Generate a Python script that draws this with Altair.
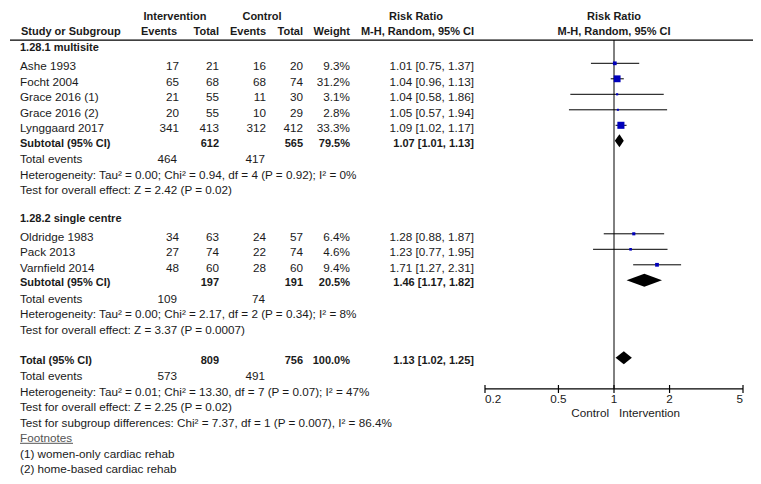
import altair as alt
import pandas as pd

# ---------------- data ----------------
studies = ["Ashe 1993", "Focht 2004", "Grace 2016 (1)", "Grace 2016 (2)", "Lynggaard 2017",
           "Oldridge 1983", "Pack 2013", "Varnfield 2014"]
study_rows = [0, 1, 2, 3, 4, 11, 12, 13]
int_events = [17, 65, 21, 20, 341, 34, 27, 48]
int_total = [21, 68, 55, 55, 413, 63, 74, 60]
ctl_events = [16, 68, 11, 10, 312, 24, 22, 28]
ctl_total = [20, 74, 30, 29, 412, 57, 74, 60]
weights = [9.3, 31.2, 3.1, 2.8, 33.3, 6.4, 4.6, 9.4]
rr = [1.01, 1.04, 1.04, 1.05, 1.09, 1.28, 1.23, 1.71]
rr_lo = [0.75, 0.96, 0.58, 0.57, 1.02, 0.88, 0.77, 1.27]
rr_hi = [1.37, 1.13, 1.86, 1.94, 1.17, 1.87, 1.95, 2.31]

sub_rows = [5, 14, 19]
sub_labels = ["Subtotal (95% CI)", "Subtotal (95% CI)", "Total (95% CI)"]
sub_int_total = [612, 197, 809]
sub_ctl_total = [565, 191, 756]
sub_weight = [79.5, 20.5, 100.0]
sub_est = [1.07, 1.46, 1.13]
sub_lo = [1.01, 1.17, 1.02]
sub_hi = [1.13, 1.82, 1.25]

te_rows = [6, 15, 20]
te_int = [464, 109, 573]
te_ctl = [417, 74, 491]

group_rows = [-1.15, 9.85]
group_labels = ["1.28.1 multisite", "1.28.2 single centre"]

note_rows = [7, 8, 16, 17, 21, 22, 23, 25, 26]
note_texts = [
    "Heterogeneity: Tau\u00b2 = 0.00; Chi\u00b2 = 0.94, df = 4 (P = 0.92); I\u00b2 = 0%",
    "Test for overall effect: Z = 2.42 (P = 0.02)",
    "Heterogeneity: Tau\u00b2 = 0.00; Chi\u00b2 = 2.17, df = 2 (P = 0.34); I\u00b2 = 8%",
    "Test for overall effect: Z = 3.37 (P = 0.0007)",
    "Heterogeneity: Tau\u00b2 = 0.01; Chi\u00b2 = 13.30, df = 7 (P = 0.07); I\u00b2 = 47%",
    "Test for overall effect: Z = 2.25 (P = 0.02)",
    "Test for subgroup differences: Chi\u00b2 = 7.37, df = 1 (P = 0.007), I\u00b2 = 86.4%",
    "(1) women-only cardiac rehab",
    "(2) home-based cardiac rehab",
]

tick_vals = [0.2, 0.5, 1, 2, 5]
tick_labels = ["0.2", "0.5", "1", "2", "5"]

# ---------------- layout ----------------
W, H = 745, 468
ROW0 = 55.3
PITCH = 15.5
FONT = "Liberation Sans"
FS = 11.7
FSB = 11
TXT = "#1a1a1a"
BLUE = "#0000bb"

yscale = alt.Scale(domain=[0, 26], range=[ROW0, ROW0 + 26 * PITCH], nice=False, zero=False)
xscale = alt.Scale(type="log", domain=[0.2, 5], range=[477, 735], nice=False)

# ---------------- tables ----------------
sd = pd.DataFrame(dict(row=study_rows, name=studies, ie=int_events, it=int_total,
                       ce=ctl_events, ct=ctl_total, w=weights, rr=rr, lo=rr_lo, hi=rr_hi))
sd["wt"] = [f"{v:.1f}%" for v in weights]
sd["rt"] = [f"{a:.2f} [{b:.2f}, {c:.2f}]" for a, b, c in zip(rr, rr_lo, rr_hi)]
for c in ["ie", "it", "ce", "ct"]:
    sd[c] = sd[c].astype(str)

sub = pd.DataFrame(dict(row=sub_rows, name=sub_labels, it=[str(v) for v in sub_int_total],
                        ct=[str(v) for v in sub_ctl_total],
                        wt=[f"{v:.1f}%" for v in sub_weight],
                        rt=[f"{a:.2f} [{b:.2f}, {c:.2f}]" for a, b, c in zip(sub_est, sub_lo, sub_hi)]))

te = pd.DataFrame(dict(row=te_rows, name=["Total events"] * 3,
                       ie=[str(v) for v in te_int], ce=[str(v) for v in te_ctl]))

grp = pd.DataFrame(dict(row=group_rows, name=group_labels))
notes = pd.DataFrame(dict(row=note_rows, name=note_texts))


def txt(df, field, x, align, bold=False, dy=3, color=TXT, fs=None):
    return alt.Chart(df).mark_text(
        align=align, baseline="middle", dy=dy, font=FONT,
        fontSize=fs if fs else (FSB if bold else FS),
        fontWeight="bold" if bold else "normal", color=color,
    ).encode(
        x=alt.value(x),
        y=alt.Y("row:Q", scale=yscale, axis=None),
        text=alt.Text(f"{field}:N"),
    )


layers = []
# study rows
layers += [
    txt(sd, "name", 12, "left"),
    txt(sd, "ie", 171, "right"),
    txt(sd, "it", 211, "right"),
    txt(sd, "ce", 258, "right"),
    txt(sd, "ct", 295, "right"),
    txt(sd, "wt", 342, "right"),
    txt(sd, "rt", 466, "right"),
]
# subtotal rows
layers += [
    txt(sub, "name", 12, "left", bold=True),
    txt(sub, "it", 211, "right", bold=True),
    txt(sub, "ct", 295, "right", bold=True),
    txt(sub, "wt", 342, "right", bold=True),
    txt(sub, "rt", 466, "right", bold=True),
]
# total events
layers += [
    txt(te, "name", 12, "left"),
    txt(te, "ie", 169, "right"),
    txt(te, "ce", 257, "right"),
]
layers += [txt(grp, "name", 12, "left", bold=True), txt(notes, "name", 12, "left")]

# footnotes heading (underlined)
fn = pd.DataFrame(dict(row=[24], name=["Footnotes"]))
layers.append(txt(fn, "name", 12, "left", color="#555555"))
layers.append(alt.Chart(fn).mark_rule(color="#555555", strokeWidth=1).encode(
    x=alt.value(12), x2=alt.value(65),
    y=alt.Y("row:Q", scale=yscale, axis=None), yOffset=alt.value(8)))

# headers
h1 = pd.DataFrame(dict(row=[-3.2] * 3, name=["Intervention", "Control", "Risk Ratio"]))
layers += [
    txt(h1.iloc[[0]], "name", 167, "center", bold=True),
    txt(h1.iloc[[1]], "name", 254, "center", bold=True),
    txt(h1.iloc[[2]], "name", 408, "center", bold=True),
]
h2 = pd.DataFrame(dict(row=[-2.2] * 7,
                       name=["Study or Subgroup", "Events", "Total", "Events", "Total", "Weight",
                             "M-H, Random, 95% CI"]))
xs = [13, 169, 211, 258, 295, 342, 466]
for i, xx in enumerate(xs):
    layers.append(txt(h2.iloc[[i]], "name", xx, "left" if i == 0 else "right", bold=True))

# right-panel header, centred on the null line
rh = pd.DataFrame(dict(row=[-3.2, -2.2], name=["Risk Ratio", "M-H, Random, 95% CI"], v=[1, 1]))
layers.append(alt.Chart(rh).mark_text(align="center", baseline="middle", dy=3, font=FONT,
                                      fontSize=FSB, fontWeight="bold", color=TXT).encode(
    x=alt.X("v:Q", scale=xscale, axis=None),
    y=alt.Y("row:Q", scale=yscale, axis=None),
    text="name:N"))

# header line
hl = pd.DataFrame(dict(row=[-1.5]))
layers.append(alt.Chart(hl).mark_rule(color="#000000", strokeWidth=1.2).encode(
    x=alt.value(2), x2=alt.value(745), y=alt.Y("row:Q", scale=yscale, axis=None)))

# null line
nl = pd.DataFrame(dict(v=[1], top=[-1.5], bot=[21]))
layers.append(alt.Chart(nl).mark_rule(color="#000000", strokeWidth=1).encode(
    x=alt.X("v:Q", scale=xscale, axis=None),
    y=alt.Y("top:Q", scale=yscale, axis=None), y2="bot:Q"))

# CI lines and squares
layers.append(alt.Chart(sd).mark_rule(color="#000000", strokeWidth=1).encode(
    x=alt.X("lo:Q", scale=xscale, axis=None), x2="hi:Q",
    y=alt.Y("row:Q", scale=yscale, axis=None)))
layers.append(alt.Chart(sd).mark_square(color=BLUE, opacity=1, filled=True).encode(
    x=alt.X("rr:Q", scale=xscale, axis=None),
    y=alt.Y("row:Q", scale=yscale, axis=None),
    size=alt.Size("w:Q", scale=alt.Scale(domain=[0, 33.3], range=[0, 50]), legend=None)))

# diamonds
HALF = 0.42
dm = []
for k, (r, e, l, h) in enumerate(zip(sub_rows, sub_est, sub_lo, sub_hi)):
    dm += [dict(id=k, x=l, top=r, bot=r), dict(id=k, x=e, top=r - HALF, bot=r + HALF),
           dict(id=k, x=h, top=r, bot=r)]
dm = pd.DataFrame(dm)
layers.append(alt.Chart(dm).mark_area(color="#000000", orient="vertical", opacity=1).encode(
    x=alt.X("x:Q", scale=xscale, axis=None),
    y=alt.Y("top:Q", scale=yscale, axis=None), y2="bot:Q",
    detail="id:N"))

# forest axis
ax = pd.DataFrame(dict(a=[0.2], b=[5], row=[21]))
layers.append(alt.Chart(ax).mark_rule(color="#000000", strokeWidth=1.2).encode(
    x=alt.X("a:Q", scale=xscale, axis=None), x2="b:Q",
    y=alt.Y("row:Q", scale=yscale, axis=None)))
tk = pd.DataFrame(dict(v=tick_vals, lab=tick_labels))
layers.append(alt.Chart(tk).mark_rule(color="#000000", strokeWidth=1.2).encode(
    x=alt.X("v:Q", scale=xscale, axis=None),
    y=alt.value(377), y2=alt.value(385)))
for sel, al in [([0], "left"), ([1, 2, 3], "center"), ([4], "right")]:
    layers.append(alt.Chart(tk.iloc[sel]).mark_text(align=al, baseline="middle", font=FONT,
                                                    fontSize=FS, color=TXT).encode(
        x=alt.X("v:Q", scale=xscale, axis=None),
        y=alt.value(391), text="lab:N"))
favour = pd.DataFrame(dict(v=[1, 1], lab=["Control", "Intervention"]))
layers.append(alt.Chart(favour.iloc[[0]]).mark_text(align="right", baseline="middle", dx=-5,
                                                    font=FONT, fontSize=FS, color=TXT).encode(
    x=alt.X("v:Q", scale=xscale, axis=None), y=alt.value(404.5), text="lab:N"))
layers.append(alt.Chart(favour.iloc[[1]]).mark_text(align="left", baseline="middle", dx=5,
                                                    font=FONT, fontSize=FS, color=TXT).encode(
    x=alt.X("v:Q", scale=xscale, axis=None), y=alt.value(404.5), text="lab:N"))

chart = alt.layer(*layers).properties(
    width=W, height=H, padding=0, autosize=alt.AutoSizeParams(type="none"),
    background="white",
).configure_view(stroke=None)

chart.save("out.html", embed_options={"renderer": "svg", "actions": False})
